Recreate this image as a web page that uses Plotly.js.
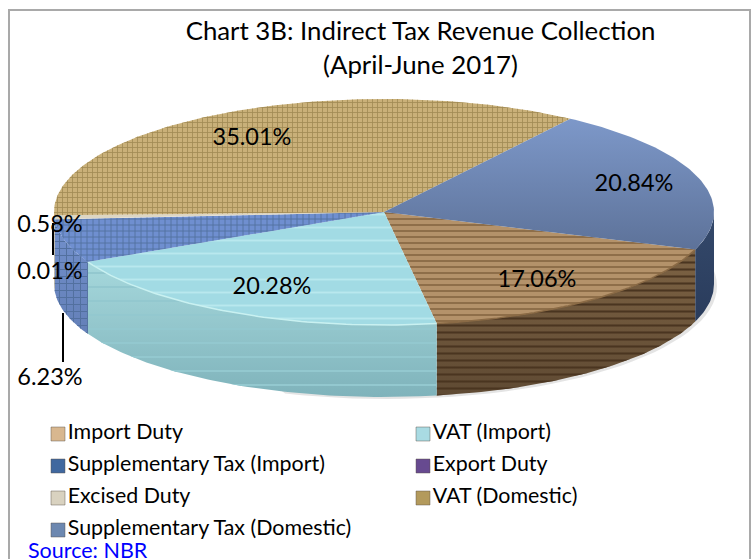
<!DOCTYPE html>
<html><head><meta charset="utf-8">
<script src="https://cdn.plot.ly/plotly-3.0.1.min.js"></script>
<style>html,body{margin:0;padding:0;background:#fff}#c{width:755px;height:559px}</style>
</head><body><div id="c"></div>
<script>
const categories=["Import Duty","VAT (Import)","Supplementary Tax (Import)","Export Duty","Excised Duty","VAT (Domestic)","Supplementary Tax (Domestic)"];
const values=[17.06,20.28,6.23,0.01,0.58,35.01,20.84];
const legendColors=["#d8b78f","#a9dbe3","#40689f","#674a90","#d9d2c0","#b39a5c","#6d88b0"];
const topBase=["#b4926a","#a2dbe4","#6f8fd0","#674a90","#ddd6c3","#c9b079","#6c86b5"];
const topInk=["#8a6a45","#b9e8ee","#52709f","#674a90","#ddd6c3","#a08b55","#6c86b5"];
const sideTop=["#7d6344","#a6d8dc","#7290cc","#674a90","#cfc8b5","#a08a55","#34496b"];
const sideBottom=["#5f4a33","#7fb3bb","#6480b8","#674a90","#b0a994","#806e44","#2a3c5c"];
const sideInk=["#4a3520","#93c8cf","#52709f","#674a90","#b0a994","#806e44","#34496b"];
const patterns=["-","-","+","","","+",""];
const patSize=[6,13,6,8,8,5,8];
const patSolid=[.3,.14,.28,.3,.3,.3,.3];
const labelPos=[[537,281],[272,288],[50,379],[50,273],[50,226],[252,139],[634,185]];
const legendX=[50,415,50,415,50,415,50];
const legendY=[434,434,466,466,498,498,530];
const leaders=[[[53,53],[223,255]],[[63,63],[313,362]]];

const cx=384,cy=212,rx=330,ry=113,depth=72,startDeg=109.4;
const total=values.reduce((a,b)=>a+b,0);
const pt=(d,dy=0)=>{const r=d*Math.PI/180;return [cx+rx*Math.sin(r),cy-ry*Math.cos(r)+dy];};
const traces=[];
const base={hoverinfo:'skip',showlegend:false,mode:'lines',line:{width:0},type:'scatter',fill:'toself'};

// soft shadow under the disc
(function(){const X=[],Y=[];for(let d=60;d<=200;d+=3){const p=pt(d,depth+2);X.push(p[0]+3);Y.push(p[1]);}
for(let d=200;d>=60;d-=3){const p=pt(d,depth-8);X.push(p[0]);Y.push(p[1]);}
traces.push({...base,x:X,y:Y,fillcolor:'rgba(130,130,130,0.22)'});})();

let a=startDeg;const spans=values.map(v=>{const s=[a,a+v/total*360];a=s[1];return s;});
// side walls: the visible front half runs from 90 to 270 degrees clockwise from the top
spans.forEach((s,i)=>{
 [0,-360].forEach(off=>{
 const lo=Math.max(s[0]+off,90),hi=Math.min(s[1]+off,270);
 if(hi<=lo)return;
 const X=[],Y=[];const n=Math.max(2,Math.ceil(hi-lo));
 for(let k=0;k<=n;k++){const p=pt(lo+(hi-lo)*k/n);X.push(p[0]);Y.push(p[1]);}
 for(let k=n;k>=0;k--){const p=pt(lo+(hi-lo)*k/n,depth);X.push(p[0]);Y.push(p[1]);}
 traces.push({...base,x:X,y:Y,fillcolor:sideTop[i],fillgradient:{type:'vertical',colorscale:[[0,sideBottom[i]],[1,sideTop[i]]]}});
 if(patterns[i])traces.push({...base,x:X,y:Y,fillcolor:'rgba(0,0,0,0)',fillpattern:{shape:patterns[i],size:patSize[i]+1,solidity:patSolid[i],fgcolor:sideInk[i],bgcolor:'rgba(0,0,0,0)'}});
 });
});
// top faces
spans.forEach((s,i)=>{
 const X=[cx],Y=[cy];const n=Math.max(2,Math.ceil(s[1]-s[0]));
 for(let k=0;k<=n;k++){const p=pt(s[0]+(s[1]-s[0])*k/n);X.push(p[0]);Y.push(p[1]);}
 X.push(cx);Y.push(cy);
 const t={...base,x:X,y:Y,fillcolor:topBase[i]};
 if(i===6)t.fillgradient={type:'vertical',colorscale:[[0,'#5d7299'],[1,'#7d98c9']]};
 traces.push(t);
 if(patterns[i])traces.push({...base,x:X,y:Y,fillcolor:'rgba(0,0,0,0)',fillpattern:{shape:patterns[i],size:patSize[i],solidity:patSolid[i],fgcolor:topInk[i],bgcolor:'rgba(0,0,0,0)'}});
 // light rim along the front edge of the slice
 if(i<=1){const rx2=[],ry2=[];for(let k=0;k<=n;k++){const p=pt(s[0]+(s[1]-s[0])*k/n);rx2.push(p[0]);ry2.push(p[1]);}
  traces.push({type:'scatter',mode:'lines',x:rx2,y:ry2,line:{color:i===1?'#c9f1f1':'#8a6a45',width:1.5},hoverinfo:'skip',showlegend:false});}
});
// leader lines
leaders.forEach(l=>traces.push({type:'scatter',mode:'lines',x:l[0],y:l[1],line:{color:'#000',width:2},hoverinfo:'skip',showlegend:false}));
// percentage labels
traces.push({type:'scatter',mode:'text',x:labelPos.map(p=>p[0]),y:labelPos.map(p=>p[1]),
 text:values.map(v=>v.toFixed(2)+'%'),textposition:'middle center',
 textfont:{family:'Lato, Carlito, sans-serif',size:23.5,color:'#000'},hoverinfo:'skip',showlegend:false});
// legend
traces.push({type:'scatter',mode:'markers+text',x:legendX.map(v=>v+8),y:legendY,text:categories,textposition:'middle right',
 marker:{symbol:'square',size:14,color:legendColors,line:{color:'rgba(90,80,70,0.45)',width:1}},
 textfont:{family:'Lato, Carlito, sans-serif',size:21.4,color:'#000'},hoverinfo:'skip',showlegend:false});

const layout={width:755,height:559,margin:{l:0,r:0,t:0,b:0},paper_bgcolor:'#fff',plot_bgcolor:'#fff',showlegend:false,
 title:{text:"Chart 3B: Indirect Tax Revenue Collection<br>(April-June 2017)",x:0.557,xanchor:'center',y:0.928,yanchor:'top',
  font:{family:'Lato, Carlito, sans-serif',size:25.8,color:'#000'}},
 xaxis:{range:[0,755],visible:false,fixedrange:true},
 yaxis:{range:[559,0],visible:false,fixedrange:true},
 shapes:[{type:'rect',xref:'paper',yref:'paper',x0:9/755,x1:750/755,y0:-0.1,y1:1-10/559,line:{color:'#a9a9a9',width:2},layer:'below'}],
 annotations:[{text:'Source: NBR',xref:'x',yref:'y',x:26,y:550,xanchor:'left',yanchor:'middle',showarrow:false,
  font:{family:'Lato, Carlito, sans-serif',size:21.5,color:'#0000ff'}}]};
Plotly.newPlot('c',traces,layout,{displayModeBar:false,staticPlot:true});
</script></body></html>
